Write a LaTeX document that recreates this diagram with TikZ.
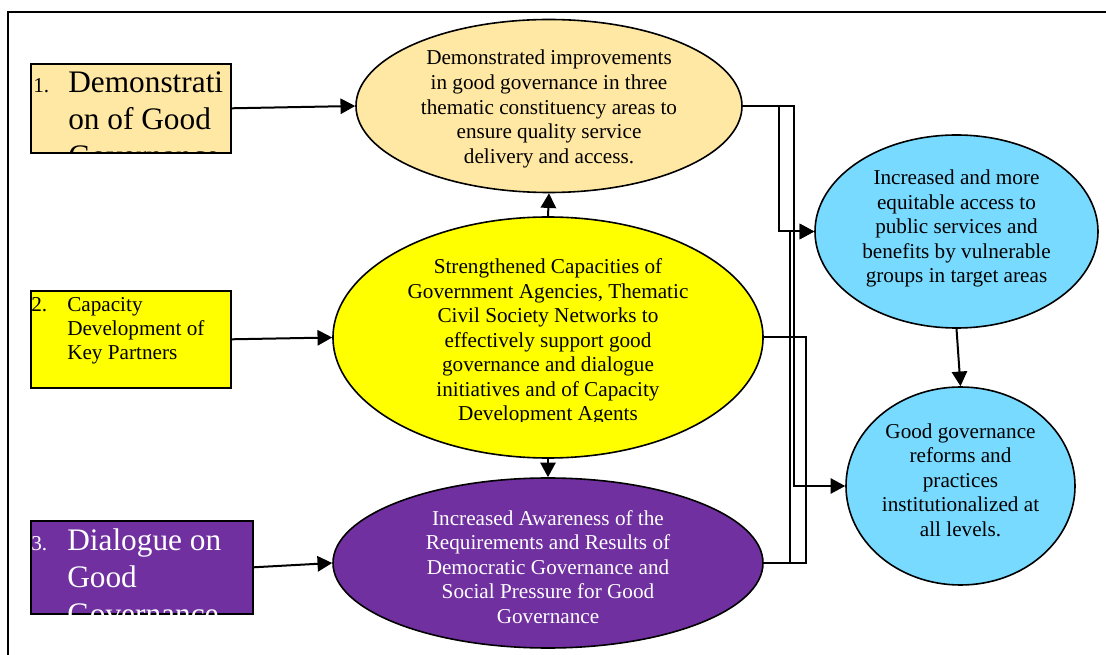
\documentclass[tikz,border=0pt]{standalone}
\usepackage{fontspec}
\setmainfont{Liberation Serif}
\usetikzlibrary{arrows.meta,shapes.geometric}
\definecolor{beige}{HTML}{FFE8A3}
\definecolor{yel}{HTML}{FFFF00}
\definecolor{purp}{HTML}{7030A0}
\definecolor{sky}{HTML}{78DAFF}
\newcommand{\reg}{\fontsize{15.9pt}{18.4pt}\selectfont}
\newcommand{\bigtxt}{\fontsize{23.5pt}{27.75pt}\selectfont}
\tikzset{
  oval/.style={ellipse, draw=black, line width=1.2pt, inner sep=0pt},
  kbox/.style={rectangle, draw=black, line width=1.2pt, inner sep=0pt, anchor=north west},
  otext/.style={align=center, inner sep=0pt, font=\reg},
  conn/.style={line width=1.5pt},
  arr/.style={line width=1.5pt, -{Triangle[length=11pt,width=11.5pt]}},
  num/.style={anchor=base west, inner sep=0pt, font=\reg},
}
\begin{document}
\begin{tikzpicture}[x=0.75pt,y=-0.75pt]
\useasboundingbox (0,0) rectangle (1106,655);
\draw[line width=1.5pt] (8,660) -- (8,12) -- (1110,12);

% ellipses
\node[oval, fill=beige, minimum width=289.5pt, minimum height=129.75pt] (e1) at (549,106) {};
\node[otext] (e1t) at (549,109) {Demonstrated improvements\\in good governance in three\\thematic constituency areas to\\ensure quality service\\delivery and access.};

\node[oval, fill=yel, minimum width=322.5pt, minimum height=180.75pt] (ye) at (548,337.5) {};
\begin{scope}
\clip (330,215) rectangle (770,422);
\node[otext] (yet) at (548,342) {Strengthened Capacities of\\Government Agencies, Thematic\\Civil Society Networks to\\effectively support good\\governance and dialogue\\initiatives and of Capacity\\Development Agents};
\end{scope}

\node[oval, fill=purp, minimum width=322.5pt, minimum height=127.5pt] (pu) at (548,563) {};
\node[otext, text=white] (put) at (548,567) {Increased Awareness of the\\Requirements and Results of\\Democratic Governance and\\Social Pressure for Good\\Governance};

\node[oval, fill=sky, minimum width=212.25pt, minimum height=144.75pt] (b1) at (956.5,231.5) {};
\node[otext] (b1t) at (956.5,228.5) {Increased and more\\equitable access to\\public services and\\benefits by vulnerable\\groups in target areas};

\node[oval, fill=sky, minimum width=171.75pt, minimum height=148.5pt] (b2) at (960.5,486) {};
\node[otext] (b2t) at (960.5,480) {Good governance\\reforms and\\practices\\institutionalized at\\all levels.};

% left boxes
\node[kbox, fill=beige, minimum width=150pt, minimum height=66.75pt] (k1) at (30,63) {};
\begin{scope}
\clip (k1.south west) rectangle (k1.north east);
\node[num] (k1n) at (33,93) {1.};
\node[anchor=base west, inner sep=0pt, font=\bigtxt] (k1a) at (68,93) {Demonstrati};
\node[anchor=base west, inner sep=0pt, font=\bigtxt] (k1b) at (68,130) {on of Good};
\node[anchor=base west, inner sep=0pt, font=\bigtxt] (k1c) at (68,167) {Governance};
\end{scope}

\node[kbox, fill=yel, minimum width=150pt, minimum height=72.75pt] (k2) at (30,290) {};
\node[num] (k2n) at (31,312) {2.};
\node[anchor=base west, inner sep=0pt, font=\reg] (k2a) at (67,312) {Capacity};
\node[anchor=base west, inner sep=0pt, font=\reg] (k2b) at (67,336) {Development of};
\node[anchor=base west, inner sep=0pt, font=\reg] (k2c) at (67,360) {Key Partners};

\node[kbox, fill=purp, minimum width=166.5pt, minimum height=69.75pt] (k3) at (30,520) {};
\begin{scope}
\clip (k3.south west) rectangle (k3.north east);
\node[num, text=white] (k3n) at (31,550) {3.};
\node[anchor=base west, inner sep=0pt, font=\bigtxt, text=white] (k3a) at (67,550) {Dialogue on};
\node[anchor=base west, inner sep=0pt, font=\bigtxt, text=white] (k3b) at (67,587) {Good};
\node[anchor=base west, inner sep=0pt, font=\bigtxt, text=white] (k3c) at (67,624) {Governance};
\end{scope}

% arrows from boxes
\draw[arr] (k1.east) -- (e1.west);
\draw[arr] (k2.east) -- (ye.west);
\draw[arr] (k3.east) -- (pu.west);

% vertical arrows
\draw[arr] (ye.north) -- (e1.south);
\draw[arr] (ye.south) -- (pu.north);
\draw[arr] (b1.south) -- (b2.north);

% elbow connectors
\draw[arr] (e1.east) -- ++(36,0) |- (b1.west);
\draw[arr] (e1.east) -- ++(51,0) |- (b2.west);
\draw[arr] (pu.east) -- ++(26,0) |- (b1.west);
\draw[conn] (ye.east) -- ++(42,0) |- (pu.east);
\end{tikzpicture}
\end{document}
